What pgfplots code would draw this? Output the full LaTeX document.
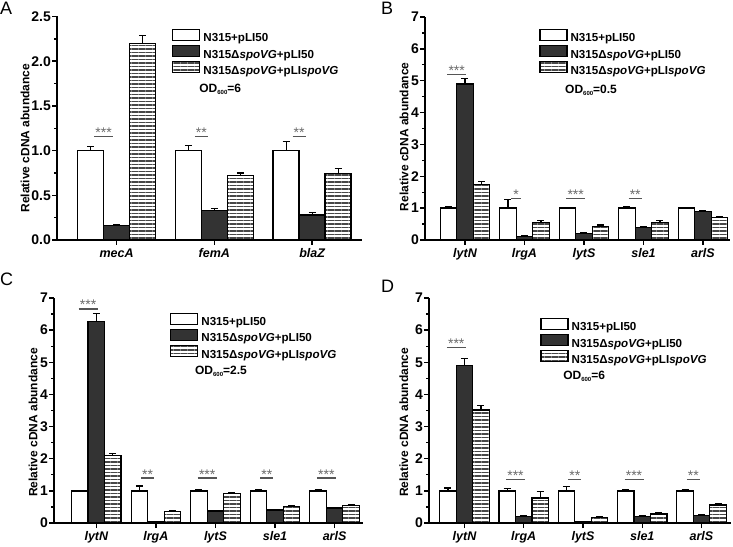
\documentclass[border=0pt]{standalone}
\usepackage{fontspec}
\setmainfont{Liberation Sans}
\usepackage{pgfplots}
\pgfplotsset{compat=1.18}
\usetikzlibrary{patterns.meta}

\definecolor{darkbar}{HTML}{333333}
\definecolor{stripe}{HTML}{474747}
\definecolor{sigline}{HTML}{555555}
\definecolor{sigstar}{HTML}{6A6A6A}

\newcommand{\fs}[1]{\fontsize{#1}{#1}\selectfont}

% significance bar: x, y, stars, half length
\newcommand{\sig}[4]{%
  \draw[sigline, line width=1.2pt] ([xshift=-#4]axis cs:#1,#2) -- ([xshift=#4]axis cs:#1,#2);
  \node[sigstar, anchor=base, inner sep=0pt, font=\fs{14}, yshift=-1pt] at (axis cs:#1,#2) {#3};
}

\pgfplotsset{
  panel/.style={
    scale only axis, anchor=south west, clip=false,
    axis x line*=bottom, axis y line*=left,
    ybar=0pt, ymin=0,
    axis line style={line width=1.6pt},
    tick align=outside,
    major tick length=5pt, minor tick length=3pt,
    every tick/.style={black, line width=1.4pt},
    minor y tick num=1,
    /pgf/number format/assume math mode=true,
    yticklabel style={font=\fs{14}\bfseries, inner sep=1pt},
    xticklabel style={font=\fs{12.5}\bfseries\itshape},
    ylabel={Relative cDNA abundance},
    ylabel style={font=\fs{12}\bfseries, anchor=center},
    legend style={draw=none, fill=none, inner sep=0pt, anchor=north west,
      row sep=0pt, column sep=3pt, font=\fs{11.6}\bfseries,
      nodes={inner sep=0pt, text height=9pt, text depth=3pt}},
    legend cell align=left,
    legend image code/.code={\draw[##1, line width=1.3pt] (0pt,-1.5pt) rectangle (27pt,9.5pt);},
    every axis plot/.append style={
      error bars/y dir=plus, error bars/y explicit,
      error bars/error bar style={line width=1.2pt, black},
      error bars/error mark options={rotate=90, line width=1.2pt, black, mark size=3.5pt}},
  },
  wbar/.style={draw=black, fill=white, line width=1.3pt},
  kbar/.style={draw=black, fill=darkbar, line width=1.3pt},
  sbar/.style={draw=black, line width=1.3pt,
    pattern={Lines[angle=0,distance=3.5pt,line width=1.1pt]}, pattern color=stripe},
}

\newcommand{\od}[1]{OD\raisebox{-2pt}{\fs{6}600}=#1}

\begin{document}
\begin{tikzpicture}
\path[use as bounding box] (0,0) rectangle (733pt,546pt);

% ---------------- A ----------------
\begin{axis}[panel, at={(57pt,306pt)}, width=305pt, height=223.5pt, bar width=26pt,
  xmin=-0.609, xmax=2.51, ymax=2.5, ytick={0,0.5,1,1.5,2,2.5},
  yticklabel style={/pgf/number format/.cd, fixed, fixed zerofill, precision=1},
  xtick={0,1,2}, xticklabels={mecA,femA,blaZ},
  ylabel style={at={(axis description cs:-0.105,0.456)}},
  legend style={at={(axis description cs:0.377,0.946)}}]
\addplot[wbar] coordinates {(0,1.0) +- (0,0.045) (1,1.0) +- (0,0.06) (2,1.0) +- (0,0.10)};
\addlegendentry{N315+pLI50}
\addplot[kbar] coordinates {(0,0.16) +- (0,0.015) (1,0.33) +- (0,0.02) (2,0.28) +- (0,0.025)};
\addlegendentry{N315Δ\textit{spoVG}+pLI50}
\addplot[sbar] coordinates {(0,2.2) +- (0,0.085) (1,0.72) +- (0,0.03) (2,0.74) +- (0,0.06)};
\addlegendentry{N315Δ\textit{spoVG}+pLI\textit{spoVG}}
\sig{-0.133}{1.157}{***}{9.5pt}
\sig{0.867}{1.157}{**}{6.5pt}
\sig{1.867}{1.157}{**}{6.5pt}
\node[anchor=base west, font=\fs{12}\bfseries, inner sep=0pt] at (axis description cs:0.466,0.658) {\od{6}};
\end{axis}

% ---------------- B ----------------
\begin{axis}[panel, at={(425pt,306pt)}, width=305pt, height=223pt, bar width=16.5pt,
  xmin=-0.672, xmax=4.454, ymax=7, ytick={0,1,...,7},
  xtick={0,1,2,3,4}, xticklabels={lytN,lrgA,lytS,sle1,arlS},
  ylabel style={at={(axis description cs:-0.069,0.462)}},
  legend style={at={(axis description cs:0.374,0.948)}}]
\addplot[wbar] coordinates {(0,1.0) +- (0,0.05) (1,1.0) +- (0,0.28) (2,1.0) +- (0,0.03) (3,1.0) +- (0,0.04) (4,1.0) +- (0,0.02)};
\addlegendentry{N315+pLI50}
\addplot[kbar] coordinates {(0,4.9) +- (0,0.18) (1,0.1) +- (0,0.03) (2,0.21) +- (0,0.03) (3,0.39) +- (0,0.03) (4,0.9) +- (0,0.03)};
\addlegendentry{N315Δ\textit{spoVG}+pLI50}
\addplot[sbar] coordinates {(0,1.75) +- (0,0.08) (1,0.55) +- (0,0.07) (2,0.43) +- (0,0.04) (3,0.56) +- (0,0.06) (4,0.71) +- (0,0.04)};
\addlegendentry{N315Δ\textit{spoVG}+pLI\textit{spoVG}}
\sig{-0.139}{5.2}{***}{9.5pt}
\sig{0.861}{1.30}{*}{5pt}
\sig{1.861}{1.30}{***}{9.5pt}
\sig{2.861}{1.30}{**}{6.5pt}
\node[anchor=base west, font=\fs{12}\bfseries, inner sep=0pt] at (axis description cs:0.459,0.655) {\od{0.5}};
\end{axis}

% ---------------- C ----------------
\begin{axis}[panel, at={(54pt,23pt)}, width=309pt, height=225pt, bar width=16.5pt,
  xmin=-0.711, xmax=4.477, ymax=7, ytick={0,1,...,7},
  xtick={0,1,2,3,4}, xticklabels={lytN,lrgA,lytS,sle1,arlS},
  ylabel style={at={(axis description cs:-0.068,0.447)}},
  legend style={at={(axis description cs:0.375,0.936)}}]
\addplot[wbar] coordinates {(0,1.0) +- (0,0.02) (1,1.0) +- (0,0.15) (2,1.0) +- (0,0.03) (3,1.0) +- (0,0.04) (4,1.0) +- (0,0.03)};
\addlegendentry{N315+pLI50}
\addplot[kbar] coordinates {(0,6.26) +- (0,0.27) (1,0.04) +- (0,0.01) (2,0.37) +- (0,0.02) (3,0.40) +- (0,0.02) (4,0.47) +- (0,0.02)};
\addlegendentry{N315Δ\textit{spoVG}+pLI50}
\addplot[sbar] coordinates {(0,2.1) +- (0,0.06) (1,0.35) +- (0,0.05) (2,0.92) +- (0,0.04) (3,0.52) +- (0,0.03) (4,0.54) +- (0,0.02)};
\addlegendentry{N315Δ\textit{spoVG}+pLI\textit{spoVG}}
\sig{-0.139}{6.66}{***}{9.5pt}
\sig{0.861}{1.40}{**}{6.5pt}
\sig{1.861}{1.40}{***}{9.5pt}
\sig{2.861}{1.40}{**}{6.5pt}
\sig{3.861}{1.40}{***}{9.5pt}
\node[anchor=base west, font=\fs{12}\bfseries, inner sep=0pt] at (axis description cs:0.456,0.662) {\od{2.5}};
\end{axis}

% ---------------- D ----------------
\begin{axis}[panel, at={(429pt,23pt)}, width=302pt, height=225pt, bar width=16.5pt,
  xmin=-0.599, xmax=4.498, ymax=7, ytick={0,1,...,7},
  xtick={0,1,2,3,4}, xticklabels={lytN,lrgA,lytS,sle1,arlS},
  ylabel style={at={(axis description cs:-0.083,0.447)}},
  legend style={at={(axis description cs:0.368,0.913)}}]
\addplot[wbar] coordinates {(0,1.0) +- (0,0.09) (1,1.0) +- (0,0.08) (2,1.0) +- (0,0.13) (3,1.0) +- (0,0.03) (4,1.0) +- (0,0.03)};
\addlegendentry{N315+pLI50}
\addplot[kbar] coordinates {(0,4.9) +- (0,0.23) (1,0.2) +- (0,0.04) (2,0.04) +- (0,0.01) (3,0.2) +- (0,0.02) (4,0.23) +- (0,0.02)};
\addlegendentry{N315Δ\textit{spoVG}+pLI50}
\addplot[sbar] coordinates {(0,3.52) +- (0,0.13) (1,0.78) +- (0,0.19) (2,0.18) +- (0,0.02) (3,0.28) +- (0,0.03) (4,0.56) +- (0,0.04)};
\addlegendentry{N315Δ\textit{spoVG}+pLI\textit{spoVG}}
\sig{-0.139}{5.45}{***}{9.5pt}
\sig{0.861}{1.35}{***}{9.5pt}
\sig{1.861}{1.35}{**}{6.5pt}
\sig{2.861}{1.35}{***}{9.5pt}
\sig{3.861}{1.35}{**}{6.5pt}
\node[anchor=base west, font=\fs{12}\bfseries, inner sep=0pt] at (axis description cs:0.444,0.636) {\od{6}};
\end{axis}

\node[anchor=north west, inner sep=0pt, font=\fs{18}] at (0pt,544pt) {A};
\node[anchor=north west, inner sep=0pt, font=\fs{18}] at (381pt,544pt) {B};
\node[anchor=north west, inner sep=0pt, font=\fs{18}] at (0pt,273pt) {C};
\node[anchor=north west, inner sep=0pt, font=\fs{18}] at (381pt,266pt) {D};
\end{tikzpicture}
\end{document}
